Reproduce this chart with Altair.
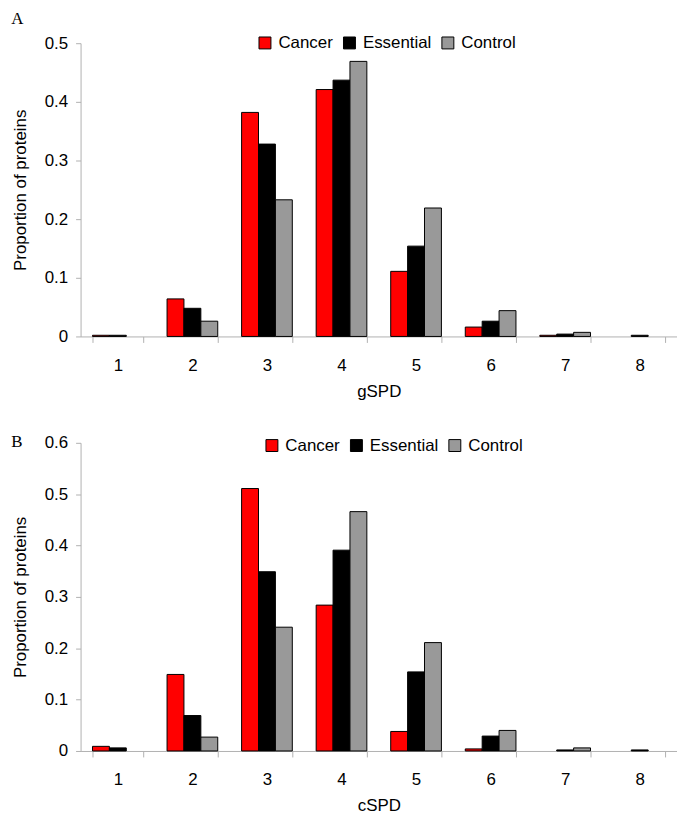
import altair as alt
import pandas as pd

categories = [1, 2, 3, 4, 5, 6, 7, 8]
series = ["Cancer", "Essential", "Control"]
colors = ["#FF0000", "#000000", "#999999"]

gspd_cancer = [0.002, 0.064, 0.382, 0.421, 0.111, 0.016, 0.002, 0.0]
gspd_essential = [0.002, 0.048, 0.328, 0.437, 0.154, 0.026, 0.004, 0.002]
gspd_control = [0.0, 0.026, 0.233, 0.469, 0.219, 0.044, 0.007, 0.0]

cspd_cancer = [0.009, 0.149, 0.511, 0.284, 0.038, 0.004, 0.0, 0.0]
cspd_essential = [0.006, 0.069, 0.349, 0.391, 0.154, 0.029, 0.002, 0.002]
cspd_control = [0.0, 0.027, 0.241, 0.466, 0.211, 0.040, 0.006, 0.0]

ticks_a = [0, 0.1, 0.2, 0.3, 0.4, 0.5]
ticks_b = [0, 0.1, 0.2, 0.3, 0.4, 0.5, 0.6]


def make_df(vals):
    rows = []
    for s, v in zip(series, vals):
        for c, y in zip(categories, v):
            rows.append({"cat": c, "series": s, "value": y})
    return pd.DataFrame(rows)


def panel(df, letter, xtitle, ymax, yticks, height, title_offset,
          legend_x, legend_y):
    return alt.Chart(df).transform_filter(
        "datum.value > 0"
    ).mark_bar(stroke="black", strokeWidth=1).encode(
        x=alt.X(
            "cat:O",
            title=xtitle,
            scale=alt.Scale(domain=categories, paddingInner=0.32,
                            paddingOuter=0.16),
            axis=alt.Axis(
                labelAngle=0,
                tickBand="extent",
                tickSize=6,
                labelPadding=15,
                titlePadding=10,
            ),
        ),
        xOffset=alt.XOffset(
            "series:N", sort=series,
            scale=alt.Scale(domain=series, paddingInner=0, paddingOuter=0),
        ),
        y=alt.Y(
            "value:Q",
            title="Proportion of proteins",
            scale=alt.Scale(domain=[0, ymax], nice=False),
            axis=alt.Axis(values=yticks, format="~g", tickSize=5,
                          labelPadding=8, titlePadding=15),
        ),
        color=alt.Color(
            "series:N",
            sort=series,
            scale=alt.Scale(domain=series, range=colors),
            legend=alt.Legend(
                title=None, orient="none", legendX=legend_x,
                legendY=legend_y, direction="horizontal",
            ),
        ),
    ).properties(
        width=600,
        height=height,
        title=alt.TitleParams(
            letter, anchor="start", frame="bounds",
            font="Liberation Serif", fontSize=17, fontWeight="normal",
            offset=title_offset, color="black",
        ),
    )


pa = panel(make_df([gspd_cancer, gspd_essential, gspd_control]),
           "A", "gSPD", 0.5, ticks_a, 295, 6, 177, -9)
pb = panel(make_df([cspd_cancer, cspd_essential, cspd_control]),
           "B", "cSPD", 0.6, ticks_b, 310, -17, 184, -6)

chart = alt.vconcat(pa, pb, spacing=34).resolve_scale(
    x="independent", y="independent", color="shared"
).resolve_legend(color="independent").properties(
    padding={"left": 3, "top": 0, "right": 0, "bottom": 0}
).configure_view(stroke=None).configure_axis(
    labelFont="Liberation Sans", labelFontSize=17, labelColor="black",
    titleFont="Liberation Sans", titleFontSize=17, titleColor="black",
    titleFontWeight="normal", domainColor="#b0b0b0", tickColor="#b0b0b0",
    grid=False,
).configure_legend(
    labelFont="Liberation Sans", labelFontSize=17, labelColor="black",
    symbolType="square", symbolSize=144, symbolStrokeColor="black",
    symbolStrokeWidth=1, symbolOpacity=1, columnPadding=8, labelOffset=5,
)

chart.save("out.html", embed_options={"renderer": "svg", "actions": False})
